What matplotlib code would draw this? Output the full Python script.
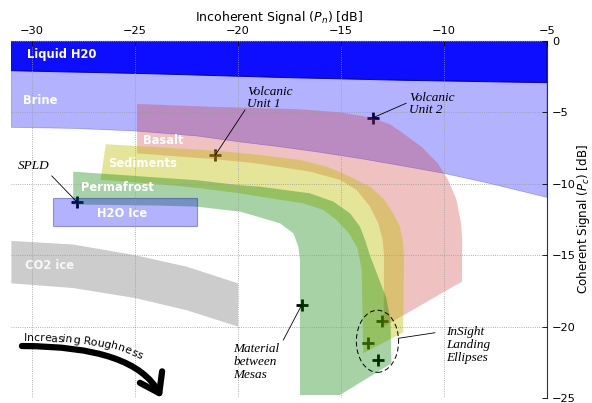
import matplotlib
matplotlib.use("Agg")
import numpy as np
import matplotlib.pyplot as plt
from matplotlib.patches import Polygon, Ellipse, Rectangle, FancyArrowPatch
from matplotlib.path import Path
from matplotlib.font_manager import FontProperties

# ---------------- data ----------------
x_ticks = [-30, -25, -20, -15, -10, -5]
y_ticks = [0, -5, -10, -15, -20, -25]

# Liquid water: lower boundary (upper boundary is 0 dB)
liquid_x = [-31, -24, -18, -12, -5]
liquid_bottom = [-2.08, -2.3, -2.55, -2.75, -2.92]

# Brine: lower boundary (upper boundary is the liquid-water edge)
brine_x = [-31, -28, -25, -22, -20, -18, -16, -14, -12, -10, -8, -5]
brine_bottom = [-6.05, -6.12, -6.3, -6.65, -7.05, -7.4, -7.8, -8.25, -8.75, -9.27, -9.9, -10.95]

# Basalt band: outer and inner edges
basalt_outer_x = [-24.9, -21, -17, -15, -13.5, -12.6, -12.1, -11.1, -10.3, -9.8, -9.4, -9.17, -9.12, -9.13]
basalt_outer_y = [-4.41, -4.62, -4.78, -5.0, -5.37, -5.85, -6.35, -7.4, -8.57, -9.73, -11.1, -12.8, -13.9, -16.85]
basalt_inner_x = [-24.9, -21.1, -19.9, -18.93, -16.5, -15.05, -14.24, -13.59, -13.19, -12.98, -12.91, -12.93]
basalt_inner_y = [-7.87, -8.28, -8.45, -8.61, -9.15, -9.73, -10.43, -11.6, -12.77, -13.94, -14.99, -20.0]

# Sediments band
sed_outer_x = [-26.42, -24.9, -21.1, -18.93, -16.99, -15.69, -14.56, -13.59, -12.95, -12.46, -12.14, -12.01, -11.94, -11.98]
sed_outer_y = [-7.23, -7.35, -7.68, -7.98, -8.33, -8.8, -9.5, -10.2, -11.02, -12.07, -13.0, -13.94, -14.99, -20.4]
sed_inner_x = [-26.67, -24, -21.9, -19.9, -18.93, -16.83, -15.86, -15.21, -14.6, -14.2, -14.0, -13.92]
sed_inner_y = [-9.73, -10.0, -10.3, -10.67, -10.9, -11.37, -11.83, -12.54, -13.5, -14.5, -16.0, -21.87]

# Permafrost band
perm_outer_x = [-28.0, -25, -22, -19.9, -18.93, -16.5, -15.37, -14.56, -14.08, -13.83, -13.6, -13.2, -12.8, -12.6, -12.55]
perm_outer_y = [-9.15, -9.45, -9.75, -10.1, -10.2, -10.67, -11.25, -12.07, -13.0, -13.94, -15.0, -16.5, -18.0, -19.5, -22.57]
perm_inner_x = [-28.0, -24, -22, -19.9, -18.93, -17.96, -17.31, -17.07, -16.99, -16.99, -15.05]
perm_inner_y = [-11.45, -11.52, -11.6, -11.95, -12.35, -12.77, -13.47, -14.4, -15.34, -24.79, -24.79]

# Water ice box: x range, y range
h2o_ice_x = [-29.0, -22.0]
h2o_ice_y = [-12.96, -11.02]

# CO2 ice band
co2_x = [-31, -28, -25, -22.5, -20]
co2_top = [-14.0, -14.25, -15.0, -15.8, -16.97]
co2_bottom = [-16.97, -17.3, -18.0, -18.85, -20.0]

# Surface sites
site_names = ["Volcanic\nUnit 1", "Volcanic\nUnit 2", "SPLD", "Material\nbetween\nMesas"]
site_x = [-21.1, -13.47, -27.8, -16.91]
site_y = [-7.98, -5.39, -11.3, -18.49]
insight_x = [-12.99, -13.67, -13.19]
insight_y = [-19.58, -21.12, -22.34]

# ---------------- figure ----------------
fig = plt.figure(figsize=(5.92, 4.03), dpi=100)
ax = fig.add_axes([0.01926, 0.01241, 0.90473, 0.88586])
ax.set_xlim(-31, -5)
ax.set_ylim(-25, 0)


def band(xo, yo, xi, yi):
    return np.column_stack([np.r_[xo, xi[::-1]], np.r_[yo, yi[::-1]]])


# point markers sit underneath the translucent regions
ax.plot(site_x, site_y, '+', color='k', ms=9, mew=2, zorder=0.5)
ax.plot(insight_x, insight_y, '+', color='k', ms=9, mew=2, zorder=0.5)

liquid = band(liquid_x, [0] * len(liquid_x), liquid_x, liquid_bottom)
ax.add_patch(Polygon(liquid, closed=True, facecolor=(0.0, 0.0, 1.0, 0.95),
                     edgecolor=(0, 0, 0.45, 0.9), lw=0.7, zorder=1))

brine = band(liquid_x, liquid_bottom, brine_x, brine_bottom)
ax.add_patch(Polygon(brine, closed=True, facecolor=(0, 0, 1, 0.3),
                     edgecolor=(0, 0, 1, 0.3), lw=0.5, zorder=1))

basalt = band(basalt_outer_x, basalt_outer_y, basalt_inner_x, basalt_inner_y)
ax.add_patch(Polygon(basalt, closed=True, facecolor=(0.8, 0.2, 0.2, 0.3),
                     edgecolor='none', zorder=1))

sed = band(sed_outer_x, sed_outer_y, sed_inner_x, sed_inner_y)
ax.add_patch(Polygon(sed, closed=True, facecolor=(0.75, 0.75, 0.0, 0.4),
                     edgecolor='none', zorder=1))

perm = band(perm_outer_x, perm_outer_y, perm_inner_x, perm_inner_y)
ax.add_patch(Polygon(perm, closed=True, facecolor=(0.0, 0.5, 0.0, 0.35),
                     edgecolor='none', zorder=1))

ax.add_patch(Rectangle((h2o_ice_x[0], h2o_ice_y[0]), h2o_ice_x[1] - h2o_ice_x[0],
                       h2o_ice_y[1] - h2o_ice_y[0], facecolor=(0, 0, 1, 0.3),
                       edgecolor=(0, 0, 0.6, 0.35), lw=0.8, zorder=1))

ax.fill_between(co2_x, co2_top, co2_bottom, facecolor=(0, 0, 0, 0.2),
                edgecolor='none', zorder=1)

# InSight landing ellipses outline
ax.add_patch(Ellipse((-13.23, -21.03), 2.05, 4.35, fill=False, edgecolor='k',
                     lw=0.7, linestyle=(0, (5, 3)), zorder=3))

# region names
region_kw = dict(color='white', fontsize=8.3, fontweight='bold', ha='left',
                 va='center', zorder=3)
ax.text(-30.24, -0.98, "Liquid H20", **region_kw)
ax.text(-30.45, -4.2, "Brine", **region_kw)
ax.text(-24.63, -7.0, "Basalt", **region_kw)
ax.text(-26.3, -8.57, "Sediments", **region_kw)
ax.text(-27.62, -10.25, "Permafrost", **region_kw)
ax.text(-26.86, -12.07, "H2O Ice", **region_kw)
ax.text(-30.34, -15.69, "CO2 ice", **dict(region_kw, color=(1, 1, 1, 0.85)))

# site annotations
serif_kw = dict(fontsize=9.5, family='Liberation Serif', style='italic',
                ha='left', va='center', linespacing=1.1, zorder=4)
label_pos = [(-19.55, -3.99), (-11.68, -4.41), (-30.71, -8.75), (-20.23, -22.48)]
leader_end = [(-19.66, -4.83), (-11.84, -4.36), (-29.04, -9.45), (-17.8, -20.94)]
for name, (tx, ty), (lx, ly), sx, sy in zip(site_names, label_pos, leader_end, site_x, site_y):
    ax.text(tx, ty, name, **serif_kw)
    ax.plot([sx, lx], [sy, ly], color='k', lw=0.6, zorder=3)
ax.text(-9.9, -21.29, "InSight\nLanding\nEllipses", **serif_kw)
ax.plot([-12.22, -10.44], [-20.82, -20.43], color='k', lw=0.6, zorder=3)

# axes styling
ax.xaxis.tick_top()
ax.xaxis.set_label_position('top')
ax.yaxis.tick_right()
ax.yaxis.set_label_position('right')
ax.set_xticks(x_ticks)
ax.set_yticks(y_ticks)
ax.tick_params(direction='in', length=3.5, width=0.6, labelsize=8.2, pad=3.5)
ax.set_xlabel("Incoherent Signal ($P_n$) [dB]", fontsize=9.0, labelpad=3.5)
ax.set_ylabel("Coherent Signal ($P_c$) [dB]", fontsize=8.6, labelpad=-0.5)
for side in ('left', 'bottom'):
    ax.spines[side].set_visible(False)
for side in ('top', 'right'):
    ax.spines[side].set_color('#333333')
    ax.spines[side].set_linewidth(0.8)
ax.set_axisbelow(False)
ax.grid(True, color='#9a9a9a', linestyle=':', lw=0.6)

# curved "Increasing Roughness" arrow
arrow_pts = np.array([(-30.49, -21.36), (-25.0, -21.36), (-23.7, -25.0)])
arrow_path = Path(arrow_pts, [Path.MOVETO, Path.CURVE3, Path.CURVE3])
ax.add_patch(FancyArrowPatch(path=arrow_path,
                             arrowstyle="->,head_length=1.3,head_width=0.9",
                             mutation_scale=10, lw=4.5, color='k',
                             clip_on=False, zorder=4))

fig.canvas.draw()
renderer = fig.canvas.get_renderer()
prop = FontProperties(family='DejaVu Sans', size=7.8)


def text_w(s):
    w1 = renderer.get_text_width_height_descent(s + '|', prop, ismath=False)[0]
    w0 = renderer.get_text_width_height_descent('|', prop, ismath=False)[0]
    return w1 - w0


t = np.linspace(0, 1, 600)
curve = (((1 - t) ** 2)[:, None] * arrow_pts[0] + (2 * (1 - t) * t)[:, None] * arrow_pts[1]
         + (t ** 2)[:, None] * arrow_pts[2])
disp = ax.transData.transform(curve)
arc = np.r_[0, np.cumsum(np.hypot(np.diff(disp[:, 0]), np.diff(disp[:, 1])))]
tang = np.gradient(disp, axis=0)
angle = np.degrees(np.arctan2(tang[:, 1], tang[:, 0]))

caption = "Increasing Roughness"
total = text_w(caption)
start = 2.0
inv = ax.transData.inverted()
for i, ch in enumerate(caption):
    if ch == ' ':
        continue
    half = 0.5 * (text_w(caption[:i]) + text_w(caption[:i + 1]))
    sc = start + half * 0.97
    frac = half / total
    offset = 5.0 + 7.0 * frac ** 2
    xd = np.interp(sc, arc, disp[:, 0])
    yd = np.interp(sc, arc, disp[:, 1])
    a = np.interp(sc, arc, angle) * 0.8
    ar = np.radians(a)
    px, py = xd - offset * np.sin(ar), yd + offset * np.cos(ar)
    dx, dy = inv.transform((px, py))
    ax.text(dx, dy, ch, fontproperties=prop, rotation=a, rotation_mode='anchor',
            ha='center', va='baseline', clip_on=False, zorder=4)

fig.savefig("out.png", dpi=100)
